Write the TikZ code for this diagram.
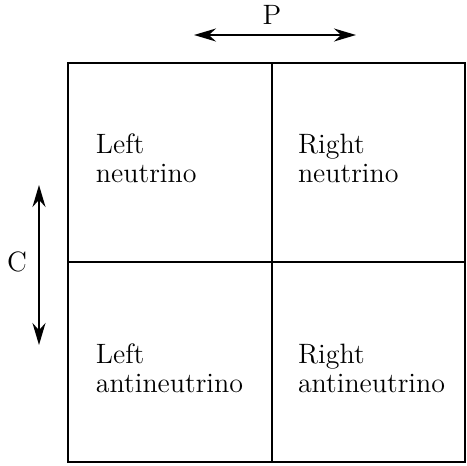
\documentclass[tikz,border=0pt]{standalone}
\usepackage{tikz}
\usetikzlibrary{arrows.meta,positioning}

\begin{document}
\begin{tikzpicture}[x=0.5pt,y=-0.5pt,line width=1pt,>={Stealth[length=11pt,width=6.5pt]},
  every node/.style={font=\fontsize{14}{14.5}\selectfont},
  cell/.style={anchor=north west,inner sep=0pt,align=left}]
\useasboundingbox (0,0) rectangle (467,466);
% the four boxes
\draw (68,63) rectangle (465,462);
\draw (272,63) -- (272,462);
\draw (68,262) -- (465,262);

\node (LN) [cell] at (95,133) {Left\\neutrino};
\node (RN) [cell] at (297,133) {Right\\neutrino};
\node (LA) [cell] at (95,343) {Left\\antineutrino};
\node (RA) [cell] at (297,343) {Right\\antineutrino};

% parity and charge conjugation
\coordinate (Pl) at (194,35);
\coordinate (Pr) at (356,35);
\node (P) at (272,15) {P};
\draw[<->] (Pl) -- (Pr);

\coordinate (Ct) at (39,185);
\coordinate (Cb) at (39,345);
\node (C) at (17,262) {C};
\draw[<->] (Ct) -- (Cb);
\end{tikzpicture}
\end{document}
